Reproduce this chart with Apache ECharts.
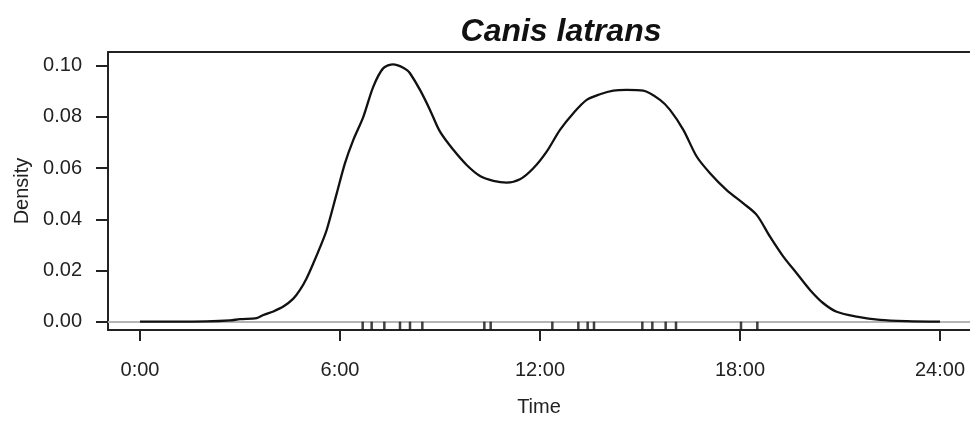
<!DOCTYPE html>
<html>
<head>
<meta charset="utf-8">
<script src="https://cdn.jsdelivr.net/npm/echarts@6/dist/echarts.min.js"></script>
<style>
html,body{margin:0;padding:0;background:#fff;}
#chart{width:970px;height:436px;}
</style>
</head>
<body>
<div id="chart"></div>
<script>
// ---- data ----
const chartTitle = "Canis latrans";
const xName = "Time";
const yName = "Density";
const hours = [0, 1, 2, 2.7, 3.0, 3.5, 3.7, 4.0, 4.3, 4.6, 4.8, 5.0, 5.2, 5.4, 5.6, 5.9, 6.15, 6.4, 6.7, 7.0, 7.3, 7.6, 7.8, 8.0, 8.1, 8.4, 8.7, 9.0, 9.4, 9.8, 10.2, 10.6, 11.0, 11.4, 11.8, 12.2, 12.6, 13.0, 13.4, 13.8, 14.2, 14.6, 15.1, 15.6, 15.9, 16.3, 16.7, 17.1, 17.6, 18.1, 18.5, 18.9, 19.3, 19.7, 20.1, 20.5, 20.9, 21.5, 22.2, 23.0, 24.0];
const density = [0.0000, 0.0000, 0.0001, 0.0005, 0.0010, 0.0014, 0.0026, 0.0040, 0.0059, 0.0090, 0.0124, 0.0170, 0.0228, 0.0290, 0.0358, 0.0500, 0.0619, 0.0710, 0.0800, 0.0918, 0.0990, 0.1005, 0.0998, 0.0983, 0.0970, 0.0905, 0.0827, 0.0742, 0.0671, 0.0612, 0.0569, 0.0550, 0.0543, 0.0556, 0.0599, 0.0664, 0.0749, 0.0814, 0.0866, 0.0888, 0.0902, 0.0905, 0.0902, 0.0866, 0.0827, 0.0749, 0.0645, 0.0580, 0.0514, 0.0462, 0.0417, 0.0332, 0.0254, 0.0189, 0.0124, 0.0072, 0.0039, 0.0020, 0.0007, 0.0002, 0.0000];
const rugTimes = [6.68, 6.95, 7.33, 7.80, 8.10, 8.47, 10.33, 10.52, 12.37, 13.15, 13.43, 13.62, 15.07, 15.37, 15.77, 16.08, 18.03, 18.52];
const xTicks = [0, 6, 12, 18, 24];
const yTicks = [0, 0.02, 0.04, 0.06, 0.08, 0.10];

// ---- chart ----
const chart = echarts.init(document.getElementById('chart'), null, {renderer: 'canvas'});
const font = 'Liberation Sans, Arial, sans-serif';
const curve = hours.map((h, i) => [h, density[i]]);
const rug = rugTimes.map(t => [t, 0]);
const X_MIN = -0.96, X_MAX = 24.9;

chart.setOption({
  animation: false,
  backgroundColor: '#fff',
  title: {
    text: chartTitle,
    left: 556,
    top: 11,
    textAlign: 'center',
    textStyle: {fontFamily: font, fontSize: 32, fontWeight: 'bold', fontStyle: 'italic', color: '#111'}
  },
  grid: {
    left: 108, right: 0, top: 52, bottom: 106,
    show: false
  },
  xAxis: [{
    type: 'value',
    min: X_MIN, max: X_MAX,
    name: xName,
    nameLocation: 'middle',
    nameGap: 67,
    nameTextStyle: {fontFamily: font, fontSize: 20, color: '#222'},
    axisLine: {show: true, onZero: false, lineStyle: {color: '#222', width: 2}},
    axisTick: {show: true, inside: false, length: 11, customValues: xTicks, lineStyle: {color: '#222', width: 2}},
    axisLabel: {
      customValues: xTicks, margin: 30,
      fontFamily: font, fontSize: 20, color: '#222',
      formatter: v => v + ':00'
    },
    splitLine: {show: false}
  }, {
    type: 'value',
    position: 'top',
    min: X_MIN, max: X_MAX,
    axisLine: {show: true, onZero: false, lineStyle: {color: '#222', width: 2}},
    axisTick: {show: false},
    axisLabel: {show: false},
    splitLine: {show: false}
  }],
  yAxis: {
    type: 'value',
    min: -0.00324, max: 0.1053,
    name: yName,
    nameLocation: 'middle',
    nameRotate: 90,
    nameGap: 76,
    nameTextStyle: {fontFamily: font, fontSize: 20, color: '#222'},
    axisLine: {show: true, onZero: false, lineStyle: {color: '#222', width: 2}},
    axisTick: {show: true, inside: false, length: 12, customValues: yTicks, lineStyle: {color: '#222', width: 2}},
    axisLabel: {
      customValues: yTicks, margin: 26,
      fontFamily: font, fontSize: 20, color: '#222',
      formatter: v => v.toFixed(2)
    },
    splitLine: {show: false}
  },
  series: [
    {
      type: 'line',
      data: curve,
      showSymbol: false,
      smooth: 0.3,
      lineStyle: {color: '#111', width: 2.3},
      z: 3,
      markLine: {
        silent: true,
        symbol: ['none', 'none'],
        label: {show: false},
        lineStyle: {color: '#b5b5b5', width: 2, type: 'solid'},
        data: [{yAxis: 0}],
        z: 1
      }
    },
    {
      type: 'scatter',
      data: rug,
      symbol: 'rect',
      symbolSize: [2.5, 8],
      symbolOffset: [0, 4],
      itemStyle: {color: '#111'},
      z: 4,
      silent: true
    }
  ]
});
</script>
</body>
</html>
